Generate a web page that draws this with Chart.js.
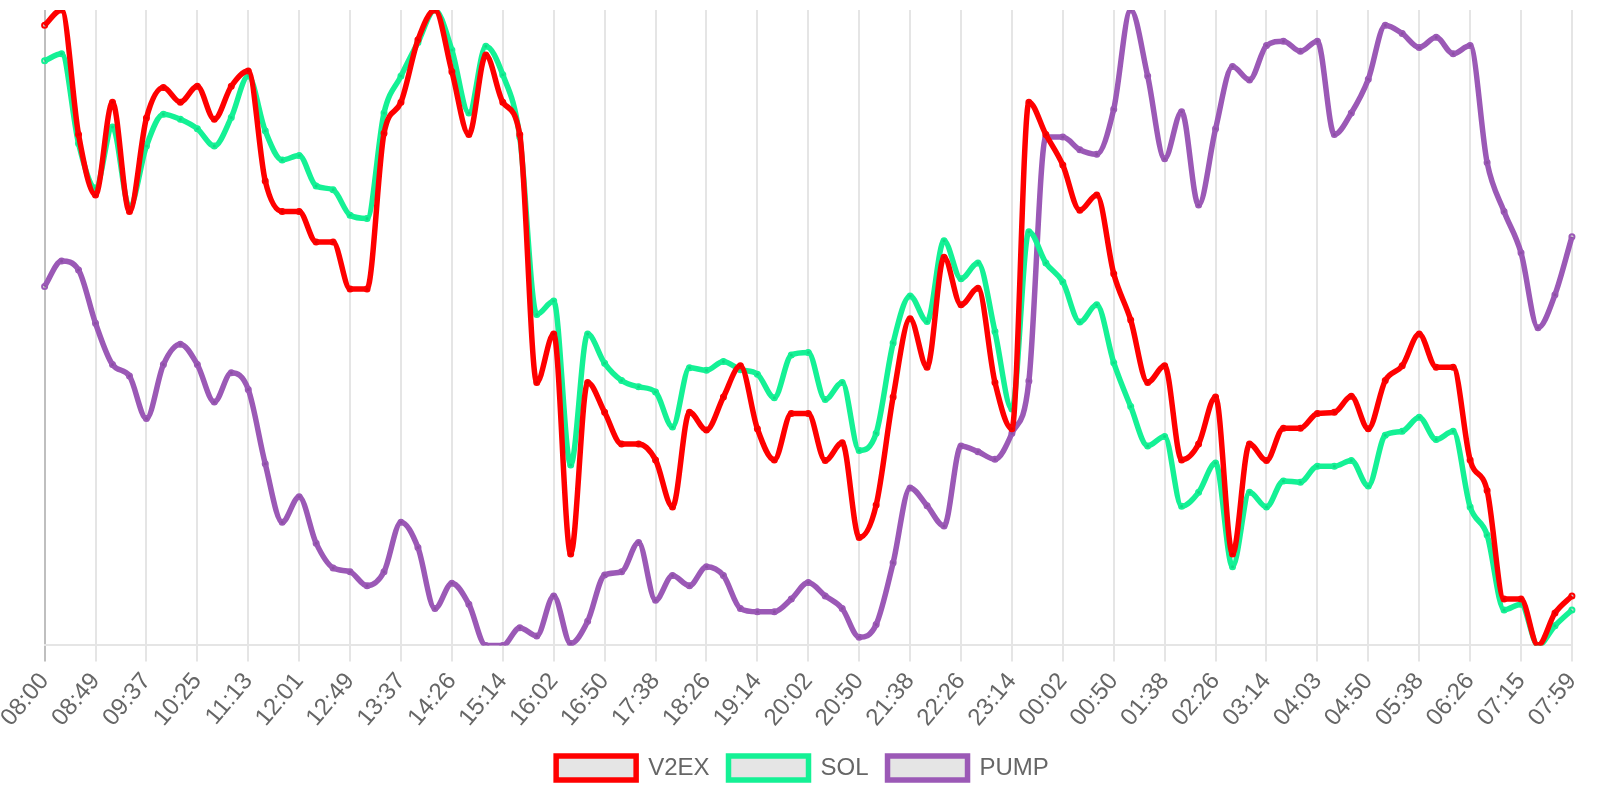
<!DOCTYPE html>
<html>
<head>
<meta charset="utf-8">
<title>V2EX / SOL / PUMP</title>
<script src="https://cdn.jsdelivr.net/npm/chart.js@4/dist/chart.umd.min.js"></script>
<style>
  html, body { margin: 0; padding: 0; background: #fff; }
  #wrap { width: 1600px; height: 800px; }
</style>
</head>
<body>
<div id="wrap"><canvas id="chart"></canvas></div>
<script>
// ---------- Data ----------
const timeLabels = [
  "08:00", "08:16", "08:32", "08:49", "09:05", "09:21", "09:37", "09:53", "10:09",
  "10:25", "10:41", "10:57", "11:13", "11:29", "11:45", "12:01", "12:17", "12:33",
  "12:49", "13:05", "13:21", "13:37", "13:53", "14:10", "14:26", "14:42", "14:58",
  "15:14", "15:30", "15:46", "16:02", "16:18", "16:34", "16:50", "17:06", "17:22",
  "17:38", "17:54", "18:10", "18:26", "18:42", "18:58", "19:14", "19:30", "19:46",
  "20:02", "20:18", "20:34", "20:50", "21:06", "21:22", "21:38", "21:54", "22:10",
  "22:26", "22:42", "22:58", "23:14", "23:30", "23:46", "00:02", "00:18", "00:34",
  "00:50", "01:06", "01:22", "01:38", "01:54", "02:10", "02:26", "02:42", "02:58",
  "03:14", "03:30", "03:47", "04:03", "04:18", "04:34", "04:50", "05:06", "05:22",
  "05:38", "05:54", "06:10", "06:26", "06:42", "06:59", "07:15", "07:30", "07:44",
  "07:59"
];

// normalised prices (0 = lowest, 100 = highest of the day)
const v2exValues = [
  97.6, 100, 80.4, 70.9, 85.5, 68.3, 83.0, 87.8, 85.5, 88.0,
  82.8, 88.0, 90.4, 73.1, 68.3, 68.3, 63.5, 63.5, 56.1, 56.1,
  80.6, 85.5, 95.3, 100, 90.3, 80.4, 92.9, 85.5, 80.4, 41.4,
  49.0, 14.4, 41.4, 36.7, 31.7, 31.7, 29.2, 21.8, 36.7, 33.9,
  39.1, 44.0, 34.1, 29.2, 36.5, 36.5, 29.1, 31.9, 17.0, 22.1,
  39.1, 51.4, 43.8, 61.1, 53.6, 56.2, 41.4, 34.1, 85.5, 80.4,
  75.6, 68.5, 70.9, 58.5, 51.2, 41.4, 44.0, 29.2, 31.7, 39.1,
  14.4, 31.7, 29.1, 34.2, 34.2, 36.5, 36.7, 39.2, 34.1, 41.7,
  44.0, 49.0, 43.8, 43.8, 29.2, 24.4, 7.3, 7.3, 0, 5.1,
  7.8
];

const solValues = [
  92.0, 93.1, 79.0, 72.0, 81.6, 69.0, 78.6, 83.6, 82.8, 81.3,
  78.6, 83.1, 89.6, 81.0, 76.4, 77.1, 72.3, 71.7, 67.7, 67.2,
  83.8, 89.6, 94.9, 100, 93.7, 83.8, 94.3, 89.8, 80.0, 52.1,
  54.2, 28.4, 49.0, 44.4, 41.7, 40.7, 39.9, 34.4, 43.7, 43.3,
  44.7, 43.4, 42.7, 39.0, 45.7, 46.1, 38.7, 41.4, 30.7, 33.4,
  47.6, 55.0, 51.0, 63.7, 57.7, 60.2, 49.4, 37.2, 65.1, 60.2,
  57.2, 50.9, 53.6, 44.5, 37.6, 31.4, 32.9, 21.9, 24.1, 28.7,
  12.4, 24.1, 21.8, 25.9, 25.7, 28.2, 28.2, 29.1, 25.1, 33.1,
  33.7, 35.9, 32.4, 33.7, 21.8, 17.4, 5.6, 6.5, 0, 3.1,
  5.6
];

const pumpValues = [
  56.5, 60.5, 59.1, 50.7, 44.2, 42.4, 35.7, 44.2, 47.4, 44.2,
  38.3, 42.9, 40.3, 28.6, 19.4, 23.4, 16.1, 12.2, 11.6, 9.4,
  11.6, 19.4, 15.4, 5.8, 9.8, 6.5, 0, 0, 2.8, 1.5,
  7.8, 0.3, 3.8, 11.1, 11.6, 16.2, 7.1, 11.0, 9.4, 12.4,
  11.0, 5.8, 5.3, 5.3, 7.3, 9.9, 7.8, 5.8, 1.3, 3.3,
  13.0, 24.8, 22.0, 18.8, 31.4, 30.5, 29.3, 33.4, 41.6, 80.0,
  80.0, 78.0, 77.3, 84.4, 100, 89.6, 76.6, 84.0, 69.3, 81.3,
  91.1, 89.0, 94.4, 95.1, 93.5, 95.1, 80.4, 83.8, 89.1, 97.6,
  96.3, 94.1, 95.7, 93.1, 94.4, 76.0, 68.3, 61.8, 50.0, 55.2,
  64.3
];

const seriesNames = ["V2EX", "SOL", "PUMP"];
const seriesColors = ["#ff0000", "#14f195", "#9b59b6"];

// ---------- Chart ----------
function makeDataset(label, data, color) {
  return {
    label: label,
    data: data,
    borderColor: color,
    backgroundColor: 'rgba(0,0,0,0.1)',
    borderWidth: 5.5,
    pointRadius: 2.5,
    pointBorderWidth: 2,
    pointHoverRadius: 4,
    cubicInterpolationMode: 'monotone',
    fill: false
  };
}

const ctx = document.getElementById('chart').getContext('2d');

new Chart(ctx, {
  type: 'line',
  data: {
    labels: timeLabels,
    datasets: [
      makeDataset(seriesNames[0], v2exValues, seriesColors[0]),
      makeDataset(seriesNames[1], solValues, seriesColors[1]),
      makeDataset(seriesNames[2], pumpValues, seriesColors[2])
    ]
  },
  options: {
    responsive: true,
    maintainAspectRatio: false,
    animation: false,
    layout: { padding: { top: 10, left: 5, right: 0, bottom: 10 } },
    scales: {
      x: {
        grid: {
          color: (c) => (c.index === 0 ? 'rgba(0,0,0,0.25)' : 'rgba(0,0,0,0.1)'),
          lineWidth: 2,
          tickLength: 16
        },
        border: { color: 'rgba(0,0,0,0.1)', width: 2 },
        ticks: {
          color: '#666',
          font: { family: 'Helvetica, Arial, sans-serif', size: 24 },
          padding: 6,
          maxRotation: 50,
          minRotation: 50,
          autoSkip: true,
          maxTicksLimit: 31
        },
        afterFit: (scale) => { scale.height -= 1; }
      },
      y: {
        display: false,
        min: 0,
        max: 100
      }
    },
    plugins: {
      legend: {
        position: 'bottom',
        labels: {
          color: '#666',
          font: { family: 'Helvetica, Arial, sans-serif', size: 24 },
          boxWidth: 80,
          boxHeight: 24,
          padding: 19
        }
      },
      tooltip: { enabled: true }
    }
  }
});
</script>
</body>
</html>
